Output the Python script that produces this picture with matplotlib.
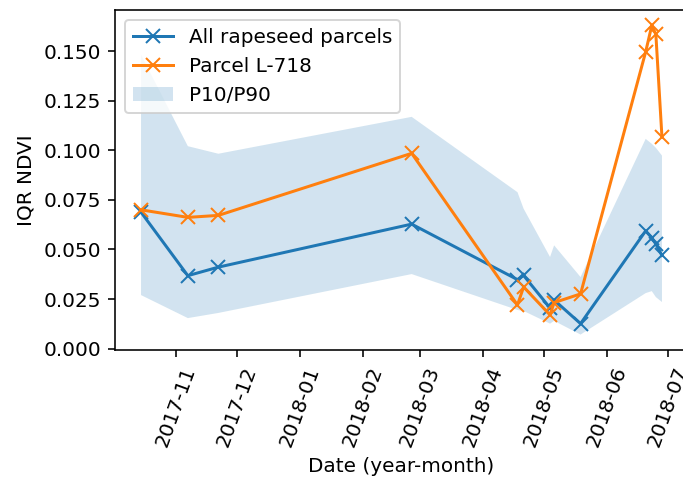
import matplotlib
matplotlib.use("Agg")
import matplotlib.pyplot as plt
import matplotlib.dates as mdates
import pandas as pd

dates = pd.to_datetime([
    "2017-10-15", "2017-11-07", "2017-11-22", "2018-02-25",
    "2018-04-18", "2018-04-21", "2018-05-04", "2018-05-06",
    "2018-05-19", "2018-06-20", "2018-06-23", "2018-06-25", "2018-06-28",
])
iqr_all = [0.0688, 0.0368, 0.0411, 0.0628, 0.0348, 0.0369, 0.0205, 0.0245,
           0.0126, 0.0594, 0.0559, 0.0528, 0.0470]
iqr_parcel = [0.0700, 0.0662, 0.0672, 0.0985, 0.0220, 0.0311, 0.0170, 0.0232,
              0.0276, 0.1497, 0.1630, 0.1586, 0.1067]
p10 = [0.0270, 0.0154, 0.0180, 0.0376, 0.0195, 0.0190, 0.0126, 0.0140,
       0.0071, 0.0280, 0.0290, 0.0260, 0.0235]
p90 = [0.1482, 0.1021, 0.0983, 0.1169, 0.0789, 0.0706, 0.0462, 0.0521,
       0.0361, 0.1058, 0.1033, 0.1013, 0.0974]

fig = plt.figure(figsize=(683 / 144, 484 / 144), dpi=144)
ax = fig.add_axes([115 / 683, 134 / 484, 573 / 683, 340 / 484])

ax.plot(dates, iqr_all, marker="x", markersize=7, label="All rapeseed parcels")
ax.plot(dates, iqr_parcel, marker="x", markersize=7, label="Parcel L-718")
ax.fill_between(dates, p10, p90, alpha=0.2, linewidth=0, label="P10/P90")

ax.xaxis.set_major_locator(mdates.MonthLocator())
ax.xaxis.set_major_formatter(mdates.DateFormatter("%Y-%m"))
plt.setp(ax.get_xticklabels(), rotation=70)

ax.set_xlabel("Date (year-month)")
ax.set_ylabel("IQR NDVI")
ax.legend(loc="upper left")

fig.savefig("out.png", dpi=144)
